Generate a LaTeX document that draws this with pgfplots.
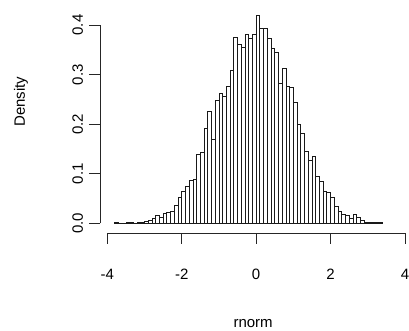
\documentclass[border=0pt]{standalone}
\usepackage{fontspec}
\setmainfont{Liberation Sans}
\usepackage{pgfplots}
\pgfplotsset{compat=1.18}
\begin{document}
\fontsize{15bp}{18bp}\selectfont
\begin{tikzpicture}
\begin{axis}[
  at={(0,0)}, anchor=south west,
  scale only axis,
  width=305bp, height=208.3bp,
  xmin=-4.196, xmax=4,
  ymin=-0.02017, ymax=0.4,
  clip=false,
  axis x line*=bottom, axis y line*=left,
  axis line style={draw=none},
  tick align=outside,
  major tick length=10.5bp,
  tick style={black!85, line width=0.75bp},
  xtick={-4,-2,0,2,4},
  xticklabels={-4,-2,0,2,4},
  ytick={0,0.1,0.2,0.3,0.4},
  yticklabels={0.0,0.1,0.2,0.3,0.4},
  xticklabel style={anchor=base, inner sep=0pt, yshift=-35.5bp, font=\fontsize{15bp}{18bp}\selectfont},
  yticklabel style={xshift=-6.5bp, rotate=90, anchor=base, inner sep=0pt, font=\fontsize{15bp}{18bp}\selectfont},
  /pgf/number format/assume math mode=true,
  xlabel={rnorm},
  ylabel={Density},
  xlabel style={at={(axis description cs:0.502,-0.452)}, anchor=base, inner sep=0pt, font=\fontsize{15bp}{18bp}\selectfont},
  ylabel style={at={(axis description cs:-0.246,0.632)}, anchor=base, inner sep=0pt, font=\fontsize{15bp}{18bp}\selectfont},
]
\addplot[ybar interval, fill=white, draw=black!90, line width=0.75bp] coordinates {
(-3.8,0.001) (-3.7,0) (-3.6,0) (-3.5,0.002) (-3.4,0.002) (-3.3,0)
(-3.2,0.002) (-3.1,0.002) (-3.0,0.003) (-2.9,0.006) (-2.8,0.010) (-2.7,0.016)
(-2.6,0.012) (-2.5,0.021) (-2.4,0.023) (-2.3,0.024) (-2.2,0.036) (-2.1,0.052)
(-2.0,0.064) (-1.9,0.075) (-1.8,0.086) (-1.7,0.089) (-1.6,0.139) (-1.5,0.144)
(-1.4,0.191) (-1.3,0.225) (-1.2,0.170) (-1.1,0.247) (-1.0,0.262) (-0.9,0.257)
(-0.8,0.277) (-0.7,0.309) (-0.6,0.375) (-0.5,0.361) (-0.4,0.354) (-0.3,0.381)
(-0.2,0.374) (-0.1,0.381) (0.0,0.420) (0.1,0.393) (0.2,0.393) (0.3,0.373)
(0.4,0.353) (0.5,0.344) (0.6,0.283) (0.7,0.312) (0.8,0.277) (0.9,0.274)
(1.0,0.244) (1.1,0.200) (1.2,0.182) (1.3,0.146) (1.4,0.127) (1.5,0.134)
(1.6,0.094) (1.7,0.084) (1.8,0.065) (1.9,0.062) (2.0,0.052) (2.1,0.035)
(2.2,0.025) (2.3,0.017) (2.4,0.016) (2.5,0.010) (2.6,0.019) (2.7,0.012)
(2.8,0.005) (2.9,0.001) (3.0,0.001) (3.1,0.001) (3.2,0.001) (3.3,0.001)
(3.4,0)
};
\draw[black!85, line width=0.75bp] (axis cs:-4,-0.02017) -- (axis cs:4,-0.02017);
\draw[black!85, line width=0.75bp] (axis cs:-4.196,0) -- (axis cs:-4.196,0.4);
\end{axis}
\pgfresetboundingbox
\path[use as bounding box] (-100bp,-97.7bp) rectangle (309bp,233.3bp);
\end{tikzpicture}
\end{document}
